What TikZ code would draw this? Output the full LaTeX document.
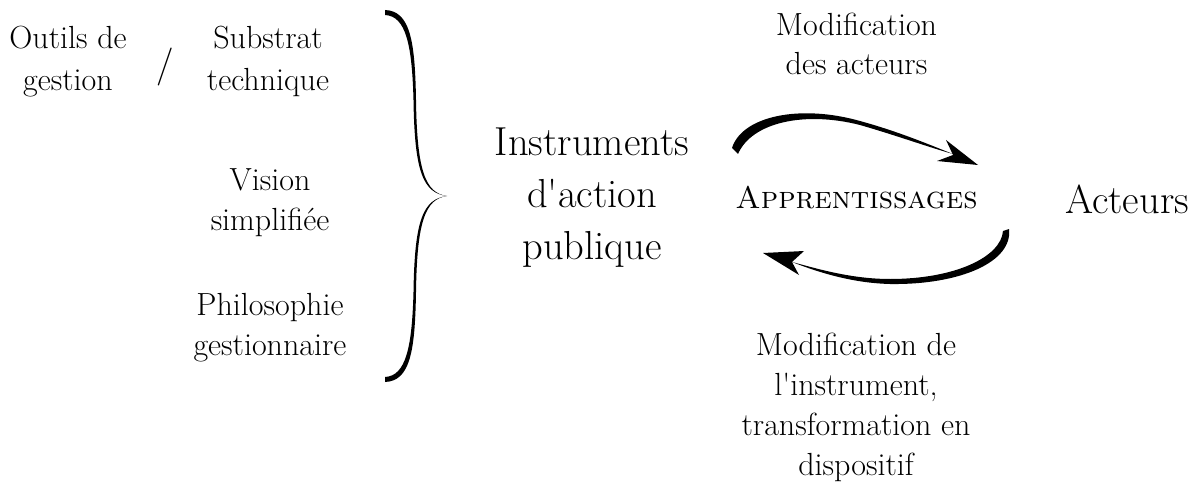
\documentclass[tikz,border=0pt]{standalone}
\begin{document}
\begin{tikzpicture}[x=1pt,y=-1pt,
  lbl/.style={align=center,inner sep=0pt,anchor=base,font=\fontsize{32}{40}\selectfont},
  big/.style={align=center,inner sep=0pt,anchor=base,font=\fontsize{40.5}{52}\selectfont},
  swoosh/.style={fill=black,draw=none}]
\useasboundingbox (0,0) rectangle (1202,484);
% left labels (anchor = baseline of last line)
\node[lbl,font=\fontsize{32}{42}\selectfont] (outils) at (68,91) {Outils de\\gestion};
\node[font=\fontsize{38}{40}\selectfont,inner sep=0pt] (slash) at (165,67) {/};
\node[lbl,font=\fontsize{32}{42}\selectfont] (substrat) at (268,91) {Substrat\\technique};
\node[lbl] (vision) at (270,230) {Vision\\simplifiée};
\node[lbl] (philo) at (270,355) {Philosophie\\gestionnaire};
% brace
\fill (385,10) .. controls (410,11) and (415,40) .. (416,100)
  .. controls (417,170) and (425,193) .. (447,196)
  .. controls (425,199) and (417,222) .. (416,292)
  .. controls (415,352) and (410,381) .. (385,382)
  -- (385,377) .. controls (406,376) and (412,347) .. (413.5,292)
  .. controls (414.5,220) and (423,199) .. (447,196)
  .. controls (423,193) and (414.5,172) .. (413.5,100)
  .. controls (412,45) and (406,16) .. (385,15) -- cycle;
% centre
\node[big] (instr) at (592,259) {Instruments\\d\textquotesingle action\\publique};
\node[inner sep=0pt,anchor=base,font=\fontsize{31.2}{40}\selectfont\scshape] (appr) at (856.5,208) {Apprentissages};
\node[big] (acteurs) at (1127,213) {Acteurs};
\node[lbl,font=\fontsize{32}{39}\selectfont] (modact) at (856.5,75) {Modification\\des acteurs};
\node[lbl] (modinst) at (856,475) {Modification de\\l\textquotesingle instrument,\\transformation en\\dispositif};
% upper swoosh arrow
\path[swoosh] (732,148) .. controls (742,116) and (800,104) .. (860,121)
  .. controls (900,132) and (930,145) .. (953,154)
  .. controls (928,147) and (898,136) .. (860,125)
  .. controls (805,111) and (752,122) .. (738,154) -- cycle;
\path[swoosh] (978,165) -- (946,140) -- (953,155) -- (937,161) -- cycle;
% lower swoosh arrow
\path[swoosh] (1009,229) .. controls (1013,262) and (960,285) .. (890,284)
  .. controls (850,283) and (815,271) .. (792,262)
  .. controls (815,268) and (850,279) .. (890,279)
  .. controls (955,279) and (1001,257) .. (1003,231) -- cycle;
\path[swoosh] (763,253) -- (804,251) -- (792,262) -- (799,275) -- cycle;
\end{tikzpicture}
\end{document}
